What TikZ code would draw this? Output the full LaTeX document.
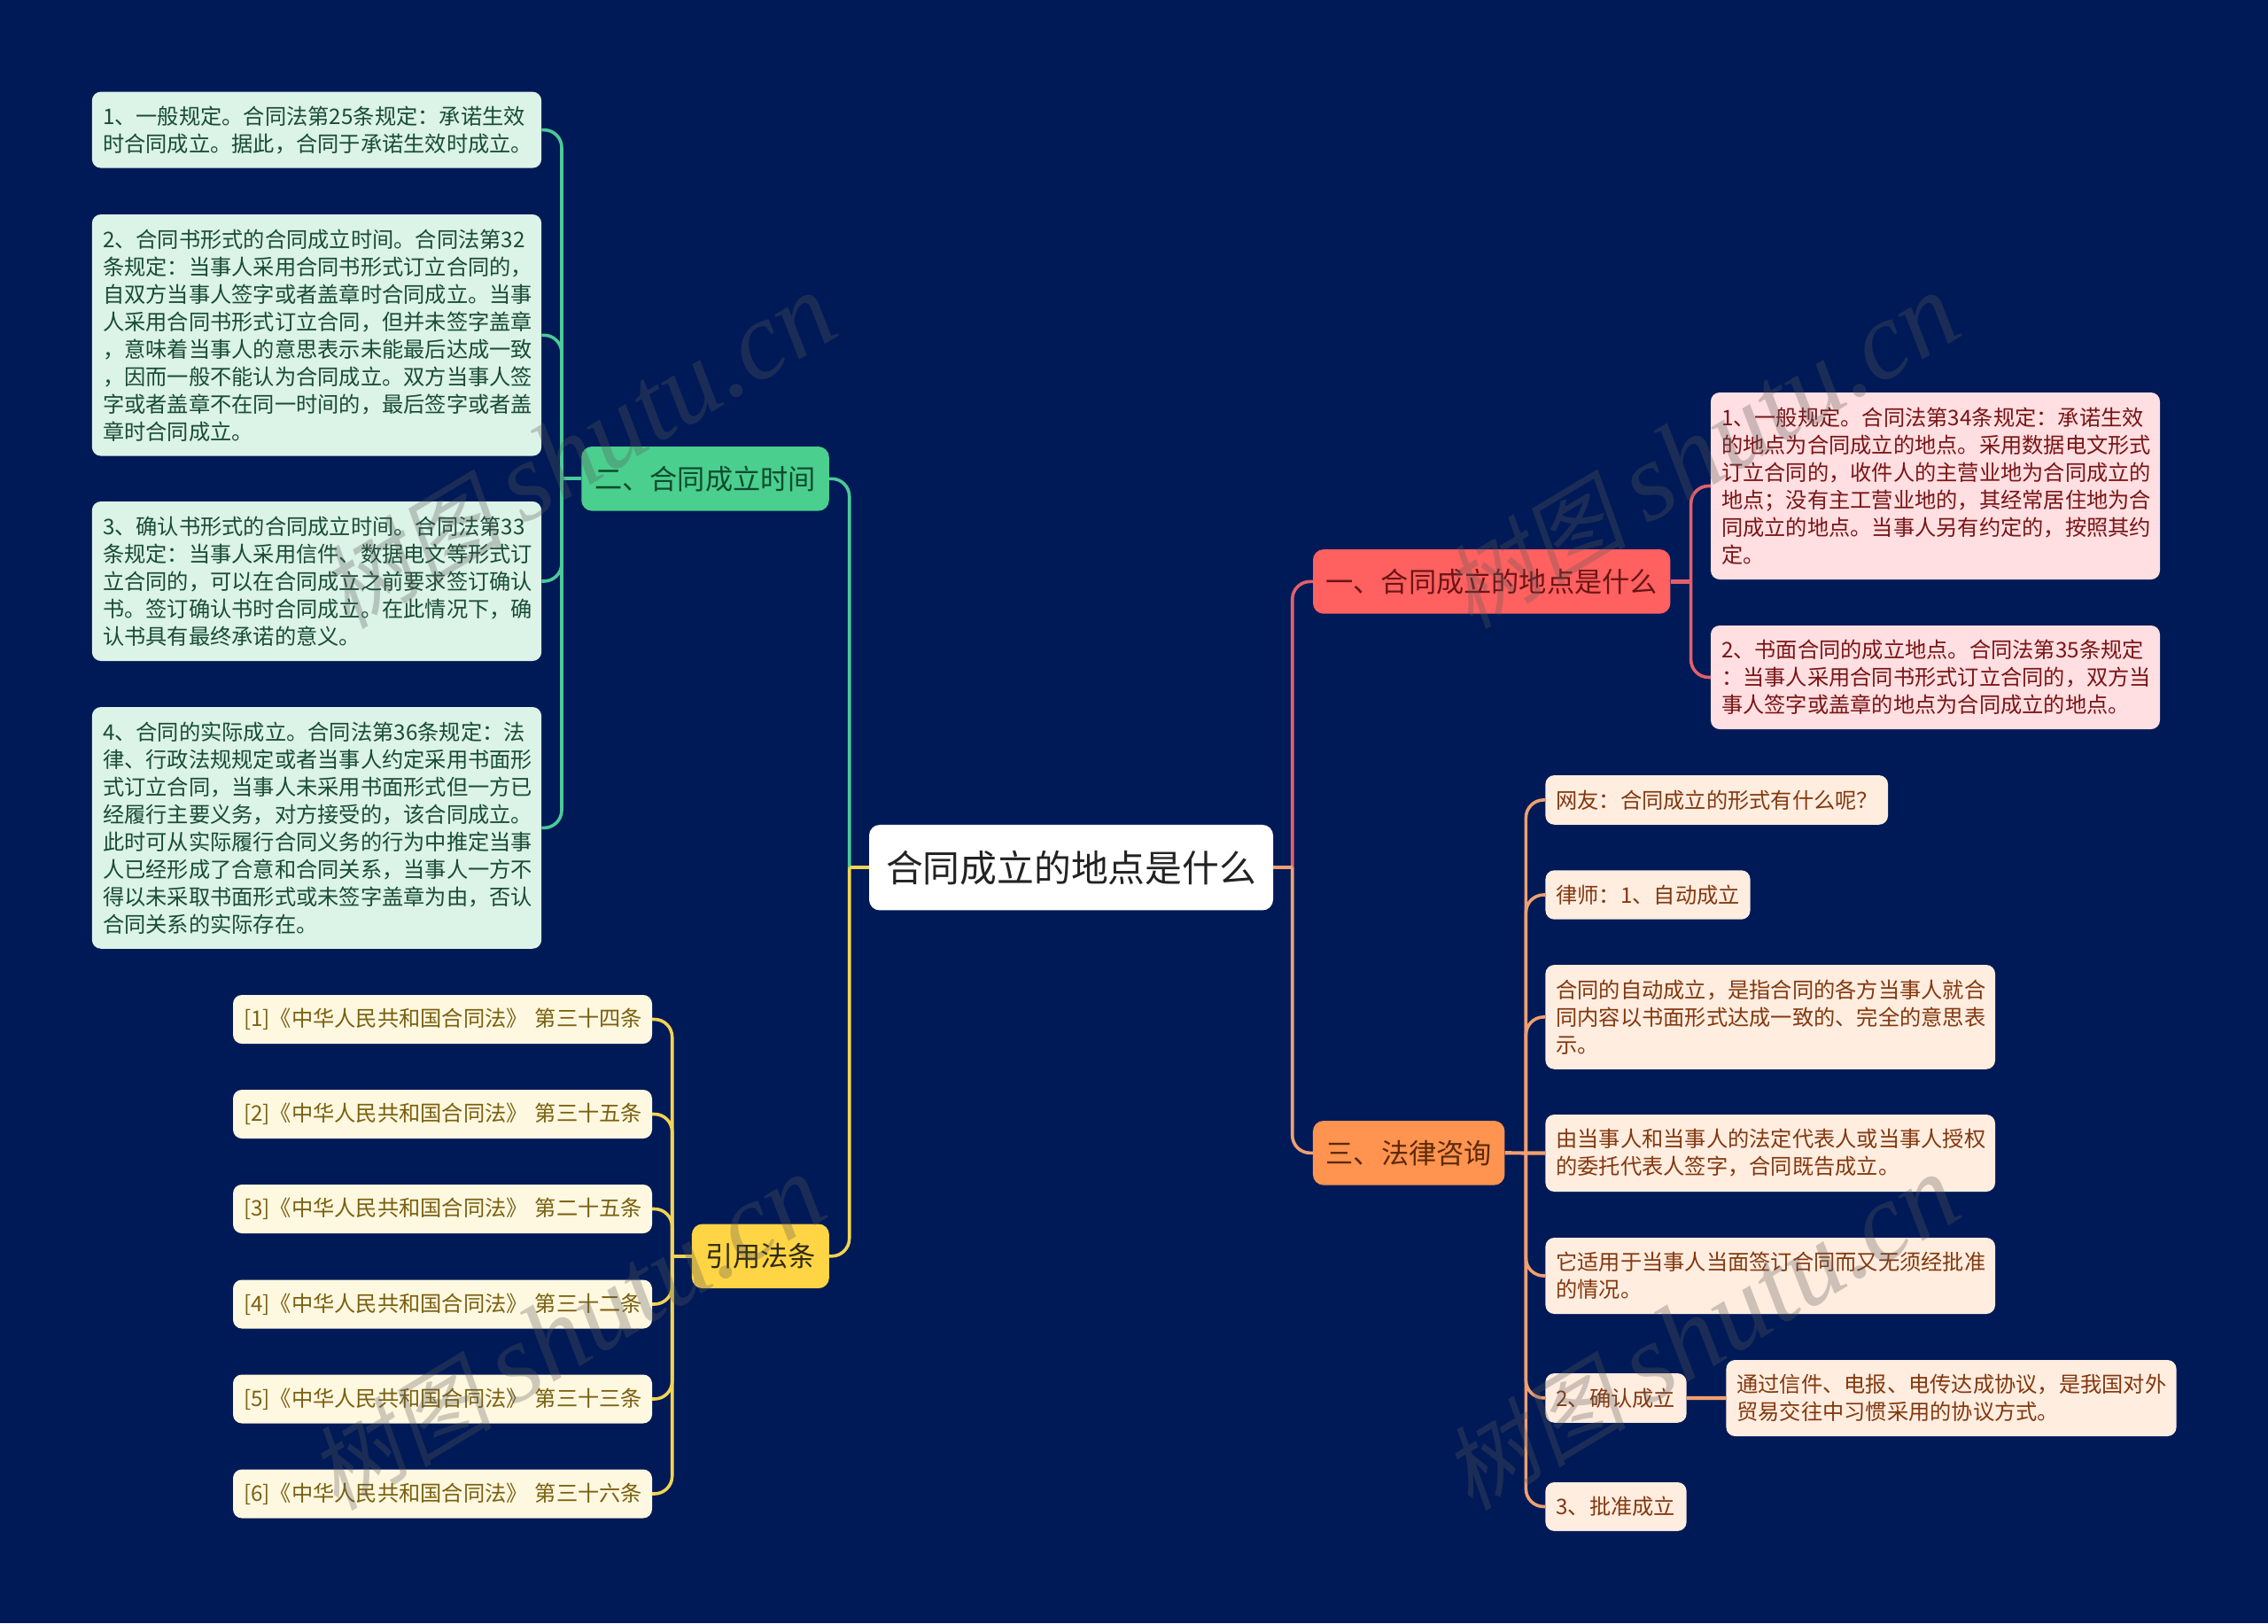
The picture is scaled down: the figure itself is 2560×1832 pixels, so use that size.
\documentclass[tikz,border=0pt]{standalone}
\usepackage{fontspec}
\setmainfont{Noto Sans CJK SC}
\newfontfamily\wmcjk[FakeSlant=0.2]{Noto Sans CJK SC}
\newfontfamily\wmlat{Liberation Serif}
\definecolor{bgc}{HTML}{001A57}
\definecolor{gline}{HTML}{4CC999}
\definecolor{rline}{HTML}{E2606C}
\definecolor{oline}{HTML}{F0A070}
\definecolor{yline}{HTML}{F2D355}
\tikzset{
  base/.style={rectangle,rounded corners=10,inner sep=0,align=left,font=\fontsize{24.25}{31}\selectfont},
  gleaf/.style={base,fill={rgb,255:red,220;green,243;blue,231},text={rgb,255:red,24;green,76;blue,54}},
  rleaf/.style={base,fill={rgb,255:red,255;green,223;blue,225},text={rgb,255:red,122;green,20;blue,22}},
  oleaf/.style={base,fill={rgb,255:red,255;green,237;blue,224},text={rgb,255:red,131;green,56;blue,14}},
  yleaf/.style={base,fill={rgb,255:red,255;green,248;blue,224},text={rgb,255:red,122;green,96;blue,16},minimum width=473,minimum height=55},
  topic/.style={rectangle,rounded corners=12,inner sep=0,align=center,font=\fontsize{31.2}{36}\selectfont},
  rootnode/.style={rectangle,rounded corners=12,inner sep=0,align=center,fill=white,text={rgb,255:red,34;green,34;blue,34},font=\fontsize{41.8}{48}\selectfont},
  conn/.style={line width=3.6,rounded corners=20,line join=round},
  stub/.style={line width=4.2},
  wmark/.style={text={rgb,255:red,90;green,90;blue,90},text opacity=0.3,rotate=31,inner sep=0},
}
\newcommand{\wmtext}{{\fontsize{104}{104}\wmcjk 树图}\hspace{24pt}{\fontsize{125}{125}\wmlat\itshape shutu.cn}}
\begin{document}
\begin{tikzpicture}[x=1pt,y=-1pt]
\fill[bgc] (0,0) rectangle (2560,1832);
\useasboundingbox (0,0) rectangle (2560,1832);

% root
\node[rootnode,minimum width=456,minimum height=96.5] (root) at (1209,979.2) {合同成立的地点是什么};
\coordinate (rL) at (958.7,979.2);
\coordinate (rR) at (1458.7,979.2);

% topics
\node[topic,fill={rgb,255:red,74;green,207;blue,142},text={rgb,255:red,15;green,74;blue,46},minimum width=279.5,minimum height=72.6] (g) at (796,540.3) {二、合同成立时间};
\node[topic,fill={rgb,255:red,255;green,213;blue,69},text={rgb,255:red,46;green,42;blue,16},minimum width=155,minimum height=72.6] (y) at (858.4,1417.8) {引用法条};
\node[topic,fill={rgb,255:red,255;green,96;blue,96},text={rgb,255:red,107;green,21;blue,21},minimum width=403.4,minimum height=72.6] (r) at (1683.7,656.4) {一、合同成立的地点是什么};
\node[topic,fill={rgb,255:red,255;green,147;blue,80},text={rgb,255:red,92;green,42;blue,8},minimum width=216.5,minimum height=72.6] (o) at (1590.2,1301.3) {三、法律咨询};

% green leaves
\node[gleaf,minimum width=507.3,minimum height=86,text width=483] (g1) at (357.5,146.6) {1、一般规定。合同法第25条规定：承诺生效\\时合同成立。据此，合同于承诺生效时成立。};
\node[gleaf,minimum width=507.3,minimum height=272.6,text width=483] (g2) at (357.5,378.3) {2、合同书形式的合同成立时间。合同法第32\\条规定：当事人采用合同书形式订立合同的，\\自双方当事人签字或者盖章时合同成立。当事\\人采用合同书形式订立合同，但并未签字盖章\\，意味着当事人的意思表示未能最后达成一致\\，因而一般不能认为合同成立。双方当事人签\\字或者盖章不在同一时间的，最后签字或者盖\\章时合同成立。};
\node[gleaf,minimum width=507.3,minimum height=180,text width=483] (g3) at (357.5,656) {3、确认书形式的合同成立时间。合同法第33\\条规定：当事人采用信件、数据电文等形式订\\立合同的，可以在合同成立之前要求签订确认\\书。签订确认书时合同成立。在此情况下，确\\认书具有最终承诺的意义。};
\node[gleaf,minimum width=507.3,minimum height=272.7,text width=483] (g4) at (357.5,934.4) {4、合同的实际成立。合同法第36条规定：法\\律、行政法规规定或者当事人约定采用书面形\\式订立合同，当事人未采用书面形式但一方已\\经履行主要义务，对方接受的，该合同成立。\\此时可从实际履行合同义务的行为中推定当事\\人已经形成了合意和合同关系，当事人一方不\\得以未采取书面形式或未签字盖章为由，否认\\合同关系的实际存在。};

% yellow leaves
\node[yleaf,text width=449] (y1) at (499.5,1150.5) {\mbox{[1]《中华人民共和国合同法》 第三十四条}};
\node[yleaf,text width=449] (y2) at (499.5,1257.5) {\mbox{[2]《中华人民共和国合同法》 第三十五条}};
\node[yleaf,text width=449] (y3) at (499.5,1364.5) {\mbox{[3]《中华人民共和国合同法》 第二十五条}};
\node[yleaf,text width=449] (y4) at (499.5,1472) {\mbox{[4]《中华人民共和国合同法》 第三十二条}};
\node[yleaf,text width=449] (y5) at (499.5,1579) {\mbox{[5]《中华人民共和国合同法》 第三十三条}};
\node[yleaf,text width=449] (y6) at (499.5,1686) {\mbox{[6]《中华人民共和国合同法》 第三十六条}};

% red leaves
\node[rleaf,minimum width=507,minimum height=211,text width=483] (r1) at (2184.5,548.5) {1、一般规定。合同法第34条规定：承诺生效\\的地点为合同成立的地点。采用数据电文形式\\订立合同的，收件人的主营业地为合同成立的\\地点；没有主工营业地的，其经常居住地为合\\同成立的地点。当事人另有约定的，按照其约\\定。};
\node[rleaf,minimum width=507,minimum height=117,text width=483] (r2) at (2184.5,764.5) {2、书面合同的成立地点。合同法第35条规定\\：当事人采用合同书形式订立合同的，双方当\\事人签字或盖章的地点为合同成立的地点。};

% orange leaves
\node[oleaf,minimum width=386.6,minimum height=55.7,text width=362.6] (o1) at (1937.7,902.9) {网友：合同成立的形式有什么呢？};
\node[oleaf,minimum width=231.1,minimum height=55.4,text width=207.1] (o2) at (1860,1010) {律师：1、自动成立};
\node[oleaf,minimum width=507.6,minimum height=117.7,text width=483.6] (o3) at (1998.2,1147.9) {合同的自动成立，是指合同的各方当事人就合\\同内容以书面形式达成一致的、完全的意思表\\示。};
\node[oleaf,minimum width=507.6,minimum height=87,text width=483.6] (o4) at (1998.2,1301.5) {由当事人和当事人的法定代表人或当事人授权\\的委托代表人签字，合同既告成立。};
\node[oleaf,minimum width=507.6,minimum height=86,text width=483.6] (o5) at (1998.2,1440) {它适用于当事人当面签订合同而又无须经批准\\的情况。};
\node[oleaf,minimum width=159.2,minimum height=55.7,text width=135.2] (o6) at (1824,1577.9) {2、确认成立};
\node[oleaf,minimum width=508.1,minimum height=86,text width=484.1] (o6a) at (2202.5,1578) {通过信件、电报、电传达成协议，是我国对外\\贸易交往中习惯采用的协议方式。};
\node[oleaf,minimum width=159.2,minimum height=55,text width=135.2] (o7) at (1824,1700.5) {3、批准成立};

% hubs
\coordinate (gv) at (634,540.3);
\coordinate (yv) at (758.7,1417.8);
\coordinate (rv) at (1908.6,656.4);
\coordinate (ov) at (1722.4,1301.3);

% connectors: red
\draw[conn,rline] (r.west) -| (rR);
\draw[conn,rline] (r1.west) -| (rv);
\draw[conn,rline] (r2.west) -| (rv);
\draw[stub,rline] (r.east) -- (rv);
% green
\draw[conn,gline] (g.east) -| (rL);
\foreach \n in {g1,g2,g3,g4} \draw[conn,gline] (\n.east) -| (gv);
\draw[stub,gline] (g.west) -- (gv);
% yellow
\draw[conn,yline] (y.east) -| (rL);
\foreach \n in {y1,y2,y3,y4,y5,y6} \draw[conn,yline] (\n.east) -| (yv);
\draw[stub,yline] (y.west) -- (yv);
% orange
\draw[conn,oline] (o.west) -| (rR);
\foreach \n in {o1,o2,o3,o5,o6,o7} \draw[conn,oline] (\n.west) -| (ov);
\draw[stub,oline] (o.east) -- (o4.west);
\draw[stub,oline] (o6.east) -- (o6a.west);
\draw[stub,oline] (root.east) -- (rR);
\draw[stub,yline] (root.west) -- (rL);

% watermarks
\node[wmark] (w1) at (652,510) {\wmtext};
\node[wmark] (w2) at (640,1505) {\wmtext};
\node[wmark] (w3) at (1920,510) {\wmtext};
\node[wmark] (w4) at (1920,1505) {\wmtext};
\end{tikzpicture}
\end{document}
